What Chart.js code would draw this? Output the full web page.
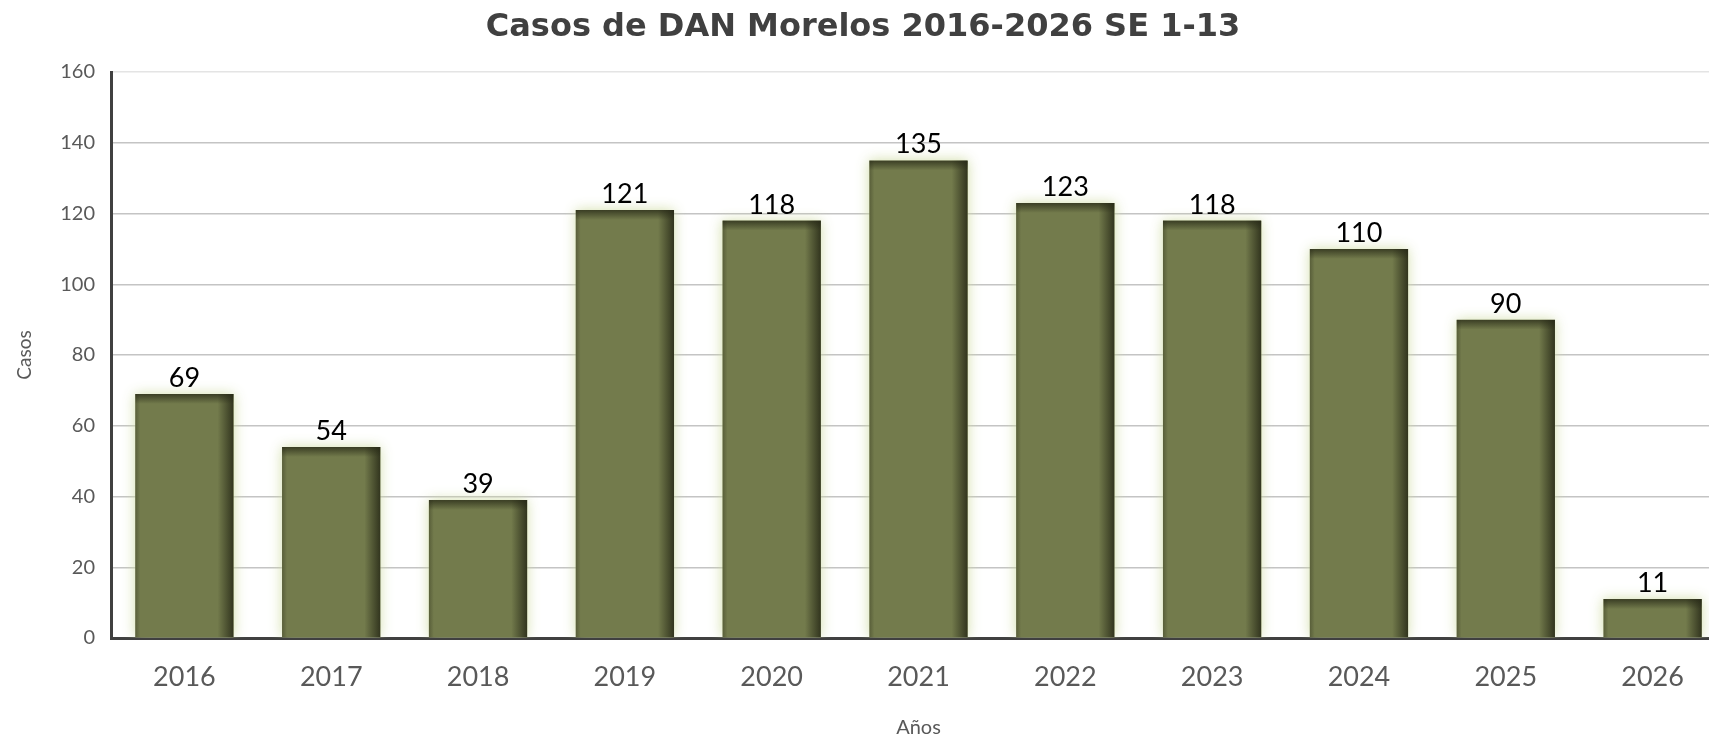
<!DOCTYPE html>
<html>
<head>
<meta charset="utf-8">
<script src="https://cdn.jsdelivr.net/npm/chart.js@4.4.1/dist/chart.umd.min.js"></script>
<style>
    html, body { margin: 0; padding: 0; background: #fff; overflow: hidden; }
    #wrap { width: 1742px; height: 740px; }
</style>
</head>
<body>
<div id="wrap"><canvas id="danChart"></canvas></div>
<script>
// Datos
const years = ['2016', '2017', '2018', '2019', '2020', '2021', '2022', '2023', '2024', '2025', '2026'];
const casos = [69, 54, 39, 121, 118, 135, 123, 118, 110, 90, 11];
const yTicks = [0, 20, 40, 60, 80, 100, 120, 140, 160];

const barFill = '#737b4c';
const textGray = '#595959';

// glow around bars + inner shading + value labels
const barStyle = {
    id: 'barStyle',
    beforeDatasetsDraw(chart) {
        const ctx = chart.ctx;
        ctx.save();
        ctx.shadowColor = 'rgba(205, 218, 160, 0.9)';
        ctx.shadowBlur = 12;
    },
    afterDatasetsDraw(chart) {
        const ctx = chart.ctx;
        ctx.restore();
        const meta = chart.getDatasetMeta(0);
        meta.data.forEach((bar, i) => {
            const left = bar.x - bar.width / 2;
            const right = bar.x + bar.width / 2;
            const top = bar.y;
            const bottom = bar.base;
            ctx.save();
            ctx.beginPath();
            ctx.rect(left, top, right - left, bottom - top);
            ctx.clip();

            let g = ctx.createLinearGradient(right - 16, 0, right, 0);
            g.addColorStop(0, 'rgba(38, 40, 22, 0)');
            g.addColorStop(1, 'rgba(38, 40, 22, 0.85)');
            ctx.fillStyle = g;
            ctx.fillRect(right - 16, top, 16, bottom - top);

            g = ctx.createLinearGradient(0, top, 0, top + 10);
            g.addColorStop(0, 'rgba(38, 40, 22, 0.75)');
            g.addColorStop(1, 'rgba(38, 40, 22, 0)');
            ctx.fillStyle = g;
            ctx.fillRect(left, top, right - left, 10);

            g = ctx.createLinearGradient(left, 0, left + 5, 0);
            g.addColorStop(0, 'rgba(38, 40, 22, 0.35)');
            g.addColorStop(1, 'rgba(38, 40, 22, 0)');
            ctx.fillStyle = g;
            ctx.fillRect(left, top, 5, bottom - top);
            ctx.restore();

            ctx.save();
            ctx.fillStyle = '#000';
            ctx.font = '27px Lato';
            ctx.textAlign = 'center';
            ctx.textBaseline = 'alphabetic';
            ctx.fillText(casos[i], bar.x, top - 7);
            ctx.restore();
        });
    }
};

new Chart(document.getElementById('danChart'), {
    type: 'bar',
    data: {
        labels: years,
        datasets: [{
            label: 'Casos',
            data: casos,
            backgroundColor: barFill,
            borderWidth: 0,
            barPercentage: 0.67,
            categoryPercentage: 1
        }]
    },
    options: {
        responsive: true,
        maintainAspectRatio: false,
        animation: false,
        layout: { padding: { left: 0, right: 16, top: 0, bottom: 0 } },
        plugins: {
            legend: { display: false },
            tooltip: { enabled: false },
            title: {
                display: true,
                text: 'Casos de DAN Morelos 2016-2026 SE 1-13',
                color: '#404040',
                font: { family: 'DejaVu Sans', size: 32, weight: 'bold' },
                padding: { top: 8, bottom: 25.6 }
            }
        },
        scales: {
            x: {
                afterFit(scale) { scale.height = 102; },
                grid: { display: false },
                border: { display: true, color: '#404040', width: 3 },
                ticks: { color: textGray, font: { family: 'Lato', size: 27 }, padding: 15 },
                title: {
                    display: true,
                    text: 'Años',
                    color: textGray,
                    font: { family: 'Lato', size: 20 },
                    padding: { top: 0, bottom: 0 }
                }
            },
            y: {
                min: 0,
                max: 160,
                afterFit(scale) { scale.width = 111; },
                afterBuildTicks(scale) { scale.ticks = yTicks.map(v => ({ value: v })); },
                grid: {
                    drawTicks: false,
                    color: ctx => ctx.tick && ctx.tick.value === 160 ? '#e4e4e4' : '#c4c4c4',
                    lineWidth: 1.5
                },
                border: { display: true, color: '#404040', width: 3 },
                ticks: { color: textGray, font: { family: 'Lato', size: 20 }, padding: 16 },
                title: {
                    display: true,
                    text: 'Casos',
                    color: textGray,
                    font: { family: 'Lato', size: 19 },
                    padding: { top: 13, bottom: 0 }
                }
            }
        }
    },
    plugins: [barStyle]
});
</script>
</body>
</html>
